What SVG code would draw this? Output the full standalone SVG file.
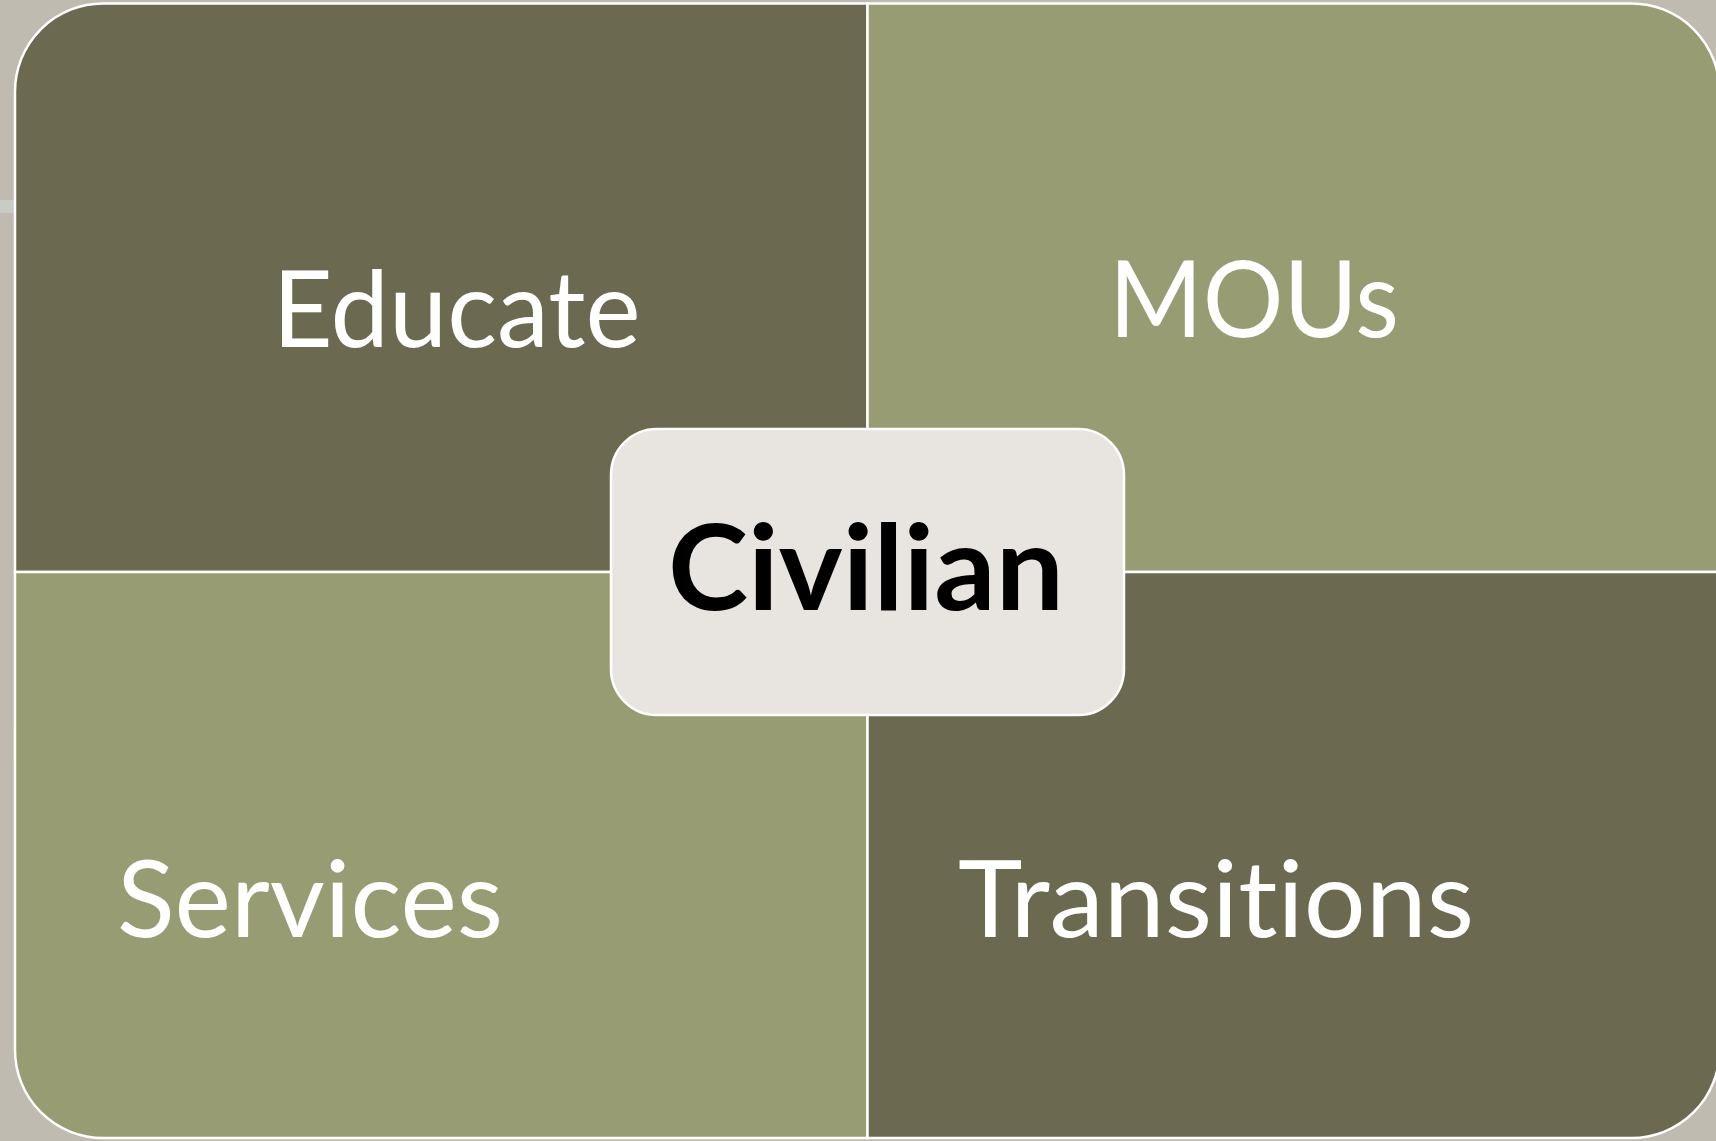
<svg xmlns="http://www.w3.org/2000/svg" width="1716" height="1141" viewBox="0 0 1716 1141">
  <style>
    .dark { fill: #6B6A51; stroke: #FFFFFF; stroke-width: 2.5; }
    .light { fill: #989C73; stroke: #FFFFFF; stroke-width: 2.5; }
    .center { fill: #E8E5E1; stroke: #FFFFFF; stroke-width: 2.5; }
    .lbl { font-family: Lato, "Open Sans", "Liberation Sans", sans-serif; font-size: 106px; fill: #FFFFFF; text-anchor: middle; font-variant-ligatures: none; font-feature-settings: "liga" 0, "dlig" 0; }
    .main { font-family: Lato, "Open Sans", "Liberation Sans", sans-serif; font-size: 118px; font-weight: bold; fill: #000000; text-anchor: middle; font-variant-ligatures: none; }
  </style>
  <rect x="0" y="0" width="1716" height="1141" fill="#C0BBB0"/>
  <rect x="0" y="200" width="14" height="13" fill="#C9CCC4"/>
  <g id="educate">
    <path class="dark" d="M15,572 V91.5 A88,88 0 0 1 103,3.5 H867.5 V572 Z"/>
    <text class="lbl" x="456.5" y="347" textLength="368" lengthAdjust="spacingAndGlyphs">Educate</text>
  </g>
  <g id="mous">
    <path class="light" d="M867.5,3.5 H1631.5 A88,88 0 0 1 1719.5,91.5 V572 H867.5 Z"/>
    <text class="lbl" x="1254" y="337" textLength="290" lengthAdjust="spacingAndGlyphs">MOUs</text>
  </g>
  <g id="services">
    <path class="light" d="M15,572 H867.5 V1138 H103 A88,88 0 0 1 15,1050 Z"/>
    <text class="lbl" x="310" y="937" textLength="386" lengthAdjust="spacingAndGlyphs">Services</text>
  </g>
  <g id="transitions">
    <path class="dark" d="M867.5,572 H1719.5 V1050 A88,88 0 0 1 1631.5,1138 H867.5 Z"/>
    <text class="lbl" x="1216" y="937" textLength="516" lengthAdjust="spacingAndGlyphs">Transitions</text>
  </g>
  <g id="connectors"></g>
  <g id="civilian">
    <rect class="center" x="611" y="429" width="513" height="286" rx="46" ry="46"/>
    <text class="main" x="866" y="610" textLength="396" lengthAdjust="spacingAndGlyphs">Civilian</text>
  </g>
</svg>
